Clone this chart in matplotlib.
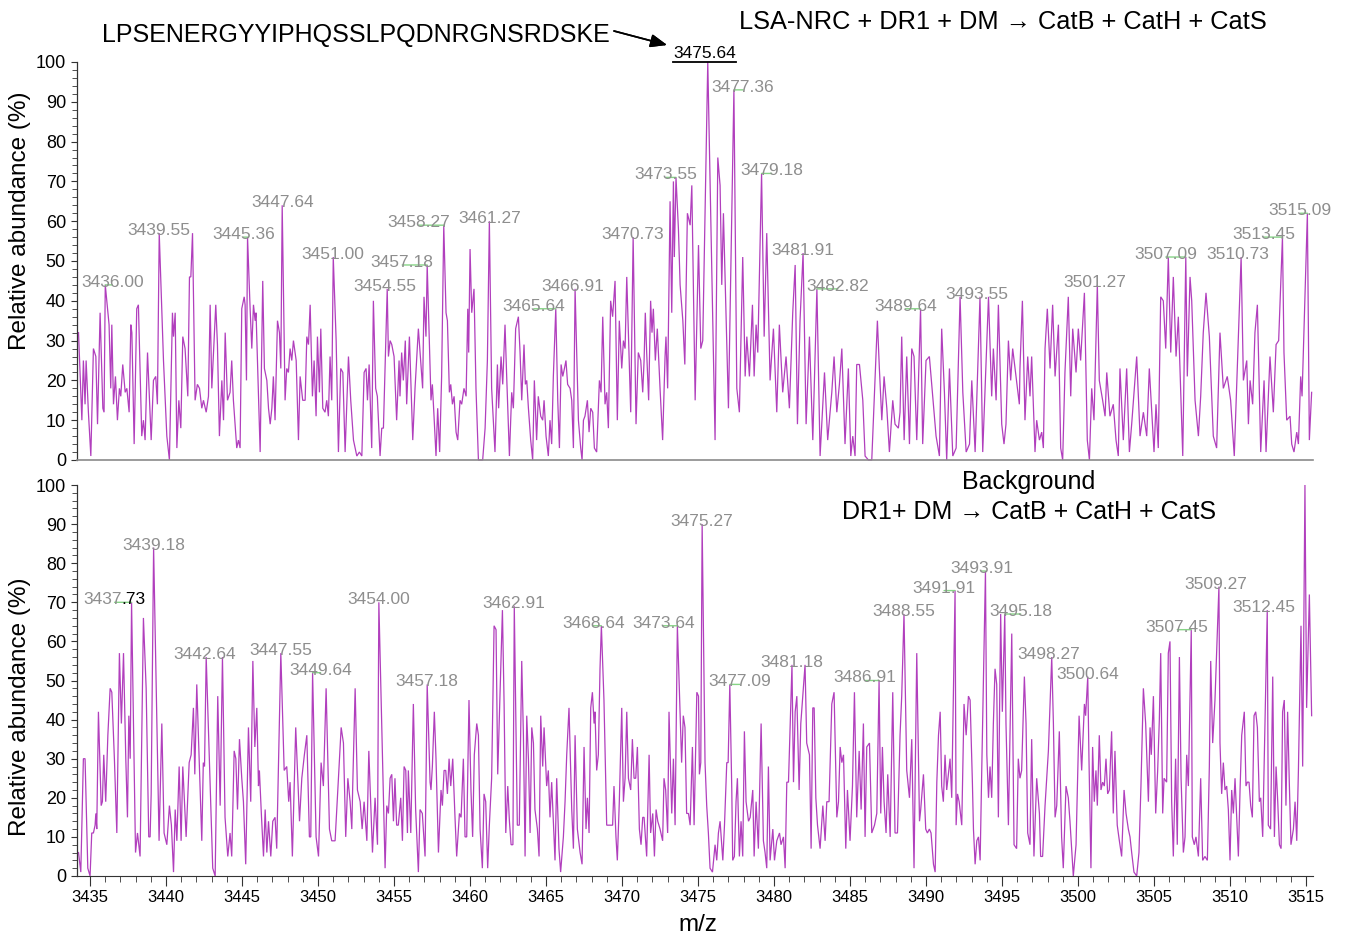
import matplotlib.pyplot as plt
from matplotlib.ticker import MultipleLocator
from matplotlib.lines import Line2D

plt.rcParams["font.family"] = ["Liberation Sans", "DejaVu Sans"]

# (m/z, relative abundance %) for the digest spectrum
top_trace = [
    (3434.24, 32), (3434.46, 10), (3434.56, 25), (3434.67, 14), (3434.74, 25), (3434.89, 12), (3435.05, 1), (3435.22, 28),
    (3435.38, 26), (3435.49, 9), (3435.66, 37), (3435.84, 13), (3435.92, 12), (3436.00, 44), (3436.25, 34), (3436.36, 18),
    (3436.43, 34), (3436.54, 14), (3436.67, 21), (3436.80, 10), (3436.93, 18), (3437.02, 16), (3437.15, 24), (3437.31, 17),
    (3437.42, 18), (3437.57, 12), (3437.68, 34), (3437.75, 32), (3437.90, 4), (3438.07, 38), (3438.18, 39), (3438.40, 6),
    (3438.51, 10), (3438.62, 5), (3438.78, 27), (3438.91, 15), (3439.02, 5), (3439.17, 20), (3439.32, 21), (3439.43, 14),
    (3439.55, 57), (3439.83, 25), (3440.05, 6), (3440.22, 0), (3440.42, 37), (3440.49, 31), (3440.60, 37), (3440.71, 3),
    (3440.84, 15), (3440.97, 8), (3441.10, 31), (3441.25, 28), (3441.43, 16), (3441.54, 46), (3441.63, 46), (3441.74, 57),
    (3441.91, 15), (3442.06, 19), (3442.20, 18), (3442.35, 13), (3442.46, 15), (3442.64, 12), (3442.79, 16), (3442.90, 39),
    (3443.01, 18), (3443.16, 30), (3443.27, 39), (3443.38, 29), (3443.51, 6), (3443.67, 20), (3443.78, 10), (3443.89, 32),
    (3444.04, 15), (3444.21, 17), (3444.32, 25), (3444.43, 15), (3444.65, 3), (3444.76, 5), (3444.87, 3), (3444.98, 38),
    (3445.14, 41), (3445.20, 39), (3445.29, 20), (3445.36, 56), (3445.53, 38), (3445.64, 28), (3445.75, 39), (3445.86, 35),
    (3445.92, 37), (3446.19, 2), (3446.36, 45), (3446.47, 23), (3446.63, 20), (3446.74, 13), (3446.85, 9), (3446.96, 13),
    (3447.06, 21), (3447.17, 10), (3447.33, 35), (3447.46, 32), (3447.55, 23), (3447.64, 64), (3447.83, 15), (3447.94, 23),
    (3448.05, 22), (3448.16, 28), (3448.27, 25), (3448.38, 30), (3448.56, 25), (3448.71, 5), (3448.82, 21), (3448.99, 15),
    (3449.15, 15), (3449.26, 31), (3449.37, 29), (3449.48, 39), (3449.63, 16), (3449.74, 25), (3449.87, 11), (3449.96, 31),
    (3450.09, 17), (3450.18, 33), (3450.31, 13), (3450.46, 12), (3450.57, 15), (3450.68, 11), (3450.79, 26), (3450.90, 15),
    (3451.00, 51), (3451.19, 30), (3451.34, 2), (3451.49, 23), (3451.63, 22), (3451.78, 2), (3452.00, 26), (3452.15, 15),
    (3452.33, 5), (3452.44, 3), (3452.55, 1), (3452.72, 2), (3452.88, 1), (3453.03, 22), (3453.16, 23), (3453.25, 15),
    (3453.36, 24), (3453.53, 3), (3453.64, 40), (3453.79, 18), (3453.90, 16), (3454.08, 1), (3454.19, 8), (3454.30, 8),
    (3454.55, 43), (3454.63, 26), (3454.74, 30), (3454.85, 29), (3455.00, 26), (3455.17, 10), (3455.33, 25), (3455.39, 16),
    (3455.50, 27), (3455.61, 20), (3455.74, 30), (3455.83, 14), (3456.01, 31), (3456.23, 5), (3456.38, 18), (3456.60, 33),
    (3456.75, 25), (3456.88, 18), (3456.97, 41), (3457.10, 31), (3457.18, 49), (3457.43, 15), (3457.52, 19), (3457.63, 11),
    (3457.76, 1), (3457.87, 13), (3458.00, 2), (3458.13, 21), (3458.27, 59), (3458.42, 37), (3458.51, 35), (3458.64, 17),
    (3458.73, 19), (3458.84, 14), (3458.95, 16), (3459.08, 7), (3459.19, 5), (3459.34, 15), (3459.45, 14), (3459.60, 18),
    (3459.74, 16), (3459.85, 38), (3459.91, 27), (3460.00, 53), (3460.11, 37), (3460.26, 43), (3460.39, 18), (3460.55, 0),
    (3460.83, 0), (3460.99, 8), (3461.14, 25), (3461.27, 60), (3461.42, 18), (3461.53, 10), (3461.64, 2), (3461.80, 24),
    (3461.88, 13), (3462.04, 26), (3462.15, 19), (3462.30, 34), (3462.41, 21), (3462.59, 1), (3462.74, 17), (3462.85, 13),
    (3463.00, 33), (3463.18, 36), (3463.29, 27), (3463.40, 15), (3463.55, 29), (3463.64, 19), (3463.73, 20), (3463.84, 13),
    (3463.99, 5), (3464.12, 0), (3464.23, 20), (3464.38, 5), (3464.49, 16), (3464.65, 11), (3464.78, 10), (3464.87, 15),
    (3465.00, 6), (3465.15, 1), (3465.26, 10), (3465.37, 4), (3465.48, 21), (3465.64, 38), (3465.77, 15), (3465.88, 3),
    (3465.99, 24), (3466.10, 21), (3466.21, 23), (3466.31, 25), (3466.42, 19), (3466.58, 18), (3466.69, 15), (3466.80, 3),
    (3466.91, 43), (3467.13, 10), (3467.28, 3), (3467.37, 0), (3467.46, 10), (3467.56, 11), (3467.72, 15), (3467.83, 7),
    (3467.94, 13), (3468.07, 12), (3468.18, 3), (3468.33, 2), (3468.51, 20), (3468.62, 17), (3468.73, 36), (3468.88, 14),
    (3468.99, 17), (3469.10, 8), (3469.25, 40), (3469.38, 36), (3469.54, 45), (3469.69, 10), (3469.82, 35), (3469.98, 23),
    (3470.09, 30), (3470.20, 28), (3470.31, 46), (3470.57, 12), (3470.73, 56), (3470.92, 9), (3471.07, 27), (3471.23, 25),
    (3471.36, 17), (3471.45, 25), (3471.53, 37), (3471.62, 27), (3471.75, 15), (3471.88, 40), (3471.97, 32), (3472.06, 38),
    (3472.19, 25), (3472.32, 33), (3472.50, 18), (3472.67, 5), (3472.83, 26), (3472.89, 31), (3473.00, 18), (3473.16, 65),
    (3473.27, 37), (3473.38, 70), (3473.44, 51), (3473.55, 71), (3473.71, 58), (3473.82, 44), (3474.00, 35), (3474.13, 24),
    (3474.30, 62), (3474.48, 59), (3474.59, 69), (3474.81, 15), (3475.03, 54), (3475.18, 28), (3475.31, 30), (3475.64, 100),
    (3476.12, 5), (3476.30, 76), (3476.45, 69), (3476.56, 44), (3476.67, 62), (3477.00, 13), (3477.36, 93), (3477.55, 18),
    (3477.72, 12), (3477.94, 51), (3478.10, 21), (3478.21, 31), (3478.38, 21), (3478.58, 39), (3478.69, 21), (3478.82, 34),
    (3478.93, 27), (3479.18, 72), (3479.35, 31), (3479.52, 57), (3479.74, 20), (3479.96, 33), (3480.18, 12), (3480.35, 34),
    (3480.57, 17), (3480.79, 26), (3481.01, 13), (3481.23, 37), (3481.39, 49), (3481.54, 9), (3481.71, 35), (3481.91, 52),
    (3482.11, 9), (3482.33, 31), (3482.55, 5), (3482.82, 43), (3483.03, 1), (3483.32, 22), (3483.53, 5), (3483.80, 17),
    (3483.95, 26), (3484.13, 12), (3484.30, 19), (3484.46, 28), (3484.67, 4), (3484.89, 23), (3485.05, 1), (3485.18, 6),
    (3485.33, 1), (3485.44, 24), (3485.62, 24), (3485.84, 15), (3485.99, 1), (3486.21, 0), (3486.43, 0), (3486.80, 35),
    (3486.93, 23), (3487.09, 10), (3487.24, 21), (3487.42, 13), (3487.59, 2), (3487.81, 15), (3487.96, 9), (3488.18, 8),
    (3488.29, 12), (3488.40, 31), (3488.56, 5), (3488.73, 26), (3488.91, 4), (3489.06, 28), (3489.21, 26), (3489.39, 5),
    (3489.64, 38), (3489.78, 4), (3490.00, 25), (3490.22, 26), (3490.44, 16), (3490.66, 6), (3490.88, 1), (3491.03, 33),
    (3491.21, 17), (3491.36, 0), (3491.54, 23), (3491.76, 1), (3491.98, 3), (3492.24, 41), (3492.42, 17), (3492.64, 2),
    (3492.86, 4), (3493.01, 20), (3493.23, 2), (3493.55, 41), (3493.73, 2), (3494.11, 41), (3494.32, 16), (3494.43, 28),
    (3494.61, 15), (3494.76, 39), (3494.98, 9), (3495.13, 4), (3495.26, 9), (3495.42, 30), (3495.57, 20), (3495.70, 28),
    (3495.92, 21), (3496.14, 14), (3496.18, 23), (3496.34, 40), (3496.51, 10), (3496.69, 26), (3496.84, 16), (3496.95, 26),
    (3497.17, 2), (3497.28, 10), (3497.46, 5), (3497.61, 7), (3497.72, 3), (3497.83, 28), (3497.98, 38), (3498.16, 23),
    (3498.33, 39), (3498.49, 21), (3498.71, 34), (3498.86, 3), (3498.99, 0), (3499.14, 22), (3499.36, 41), (3499.52, 16),
    (3499.65, 33), (3499.87, 22), (3500.02, 33), (3500.17, 25), (3500.42, 42), (3500.61, 5), (3500.75, 0), (3500.90, 18),
    (3501.05, 10), (3501.27, 44), (3501.40, 20), (3501.62, 15), (3501.78, 11), (3501.89, 22), (3502.10, 11), (3502.32, 14),
    (3502.50, 5), (3502.65, 1), (3502.76, 23), (3502.98, 5), (3503.20, 23), (3503.38, 2), (3503.53, 9), (3503.86, 26),
    (3504.08, 6), (3504.30, 12), (3504.52, 6), (3504.69, 23), (3505.00, 2), (3505.13, 14), (3505.28, 3), (3505.44, 41),
    (3505.61, 40), (3505.77, 28), (3505.94, 51), (3506.10, 27), (3506.27, 46), (3506.45, 26), (3506.60, 36), (3506.89, 1),
    (3507.09, 51), (3507.19, 21), (3507.37, 46), (3507.48, 40), (3507.70, 15), (3507.92, 6), (3508.07, 16), (3508.24, 32),
    (3508.42, 42), (3508.64, 31), (3508.90, 6), (3509.12, 3), (3509.34, 32), (3509.56, 18), (3509.82, 21), (3510.04, 15),
    (3510.28, 1), (3510.73, 51), (3510.88, 20), (3511.10, 25), (3511.21, 9), (3511.32, 20), (3511.49, 14), (3511.64, 32),
    (3511.80, 39), (3512.02, 2), (3512.24, 20), (3512.37, 2), (3512.63, 26), (3512.85, 12), (3513.03, 29), (3513.20, 30),
    (3513.45, 56), (3513.55, 27), (3513.73, 10), (3513.95, 11), (3514.06, 4), (3514.21, 2), (3514.39, 7), (3514.50, 4),
    (3514.65, 21), (3514.74, 16), (3515.09, 62), (3515.22, 5), (3515.37, 17),
]

# (m/z, relative abundance %) for the background digest
bottom_trace = [
    (3434.24, 6), (3434.39, 1), (3434.56, 30), (3434.67, 30), (3434.85, 2), (3435.00, 0), (3435.11, 11), (3435.22, 11),
    (3435.33, 13), (3435.38, 16), (3435.44, 12), (3435.55, 42), (3435.73, 18), (3435.81, 19), (3435.90, 31), (3436.03, 19),
    (3436.17, 36), (3436.32, 48), (3436.43, 47), (3436.54, 36), (3436.60, 30), (3436.76, 11), (3436.93, 57), (3437.06, 39),
    (3437.20, 57), (3437.35, 30), (3437.46, 15), (3437.55, 41), (3437.64, 30), (3437.73, 70), (3437.99, 6), (3438.12, 11),
    (3438.29, 5), (3438.51, 66), (3438.69, 48), (3438.86, 10), (3438.95, 10), (3439.02, 21), (3439.18, 84), (3439.54, 9),
    (3439.72, 39), (3439.87, 11), (3440.05, 8), (3440.22, 18), (3440.35, 13), (3440.49, 1), (3440.60, 17), (3440.71, 9),
    (3440.86, 28), (3440.99, 9), (3441.10, 28), (3441.21, 19), (3441.32, 10), (3441.52, 29), (3441.65, 31), (3441.80, 43),
    (3441.89, 26), (3442.02, 49), (3442.35, 9), (3442.45, 29), (3442.53, 28), (3442.64, 56), (3442.85, 30), (3443.07, 2),
    (3443.23, 0), (3443.40, 46), (3443.56, 18), (3443.71, 56), (3443.88, 15), (3444.06, 5), (3444.21, 11), (3444.32, 5),
    (3444.48, 32), (3444.59, 30), (3444.70, 17), (3444.83, 35), (3444.98, 25), (3445.09, 19), (3445.24, 3), (3445.42, 38),
    (3445.57, 19), (3445.71, 55), (3445.84, 33), (3445.97, 43), (3446.08, 23), (3446.14, 27), (3446.28, 15), (3446.41, 5),
    (3446.52, 17), (3446.63, 6), (3446.74, 14), (3446.89, 5), (3447.02, 14), (3447.17, 15), (3447.28, 7), (3447.55, 57),
    (3447.77, 27), (3447.94, 28), (3448.07, 19), (3448.16, 24), (3448.31, 5), (3448.53, 38), (3448.78, 14), (3448.93, 25),
    (3449.10, 31), (3449.26, 36), (3449.43, 10), (3449.52, 10), (3449.64, 52), (3449.87, 10), (3450.03, 5), (3450.20, 29),
    (3450.35, 23), (3450.53, 48), (3450.75, 12), (3450.90, 9), (3451.12, 9), (3451.52, 38), (3451.67, 34), (3451.82, 10),
    (3451.96, 25), (3452.11, 19), (3452.22, 12), (3452.28, 23), (3452.44, 48), (3452.59, 22), (3452.77, 19), (3452.90, 12),
    (3453.03, 19), (3453.21, 9), (3453.34, 32), (3453.58, 6), (3453.75, 20), (3453.91, 8), (3454.00, 70), (3454.41, 2),
    (3454.52, 18), (3454.63, 16), (3454.74, 25), (3454.85, 26), (3454.96, 14), (3455.06, 25), (3455.17, 13), (3455.28, 13),
    (3455.44, 20), (3455.55, 9), (3455.66, 28), (3455.77, 27), (3455.88, 11), (3455.94, 27), (3456.10, 11), (3456.27, 44),
    (3456.42, 17), (3456.60, 1), (3456.71, 17), (3456.86, 16), (3457.04, 5), (3457.18, 49), (3457.37, 24), (3457.43, 22),
    (3457.52, 28), (3457.65, 42), (3457.76, 30), (3457.92, 6), (3458.09, 22), (3458.18, 18), (3458.29, 27), (3458.40, 27),
    (3458.51, 21), (3458.62, 30), (3458.73, 23), (3458.86, 30), (3459.01, 15), (3459.12, 5), (3459.30, 16), (3459.41, 15),
    (3459.56, 30), (3459.67, 10), (3459.78, 10), (3459.93, 45), (3460.06, 22), (3460.17, 10), (3460.28, 31), (3460.44, 39),
    (3460.55, 36), (3460.66, 12), (3460.81, 2), (3460.92, 21), (3461.03, 19), (3461.16, 2), (3461.27, 13), (3461.42, 25),
    (3461.58, 64), (3461.71, 63), (3461.82, 26), (3461.97, 46), (3462.13, 68), (3462.24, 44), (3462.35, 11), (3462.48, 23),
    (3462.59, 14), (3462.70, 8), (3462.82, 8), (3462.91, 69), (3463.11, 13), (3463.24, 13), (3463.40, 55), (3463.51, 36),
    (3463.62, 5), (3463.73, 41), (3463.84, 30), (3463.95, 11), (3464.06, 38), (3464.17, 34), (3464.27, 17), (3464.43, 12),
    (3464.54, 5), (3464.65, 41), (3464.78, 28), (3464.87, 38), (3465.04, 23), (3465.15, 27), (3465.26, 15), (3465.37, 24),
    (3465.48, 14), (3465.59, 4), (3465.70, 25), (3465.85, 7), (3465.96, 1), (3466.14, 10), (3466.25, 19), (3466.36, 31),
    (3466.51, 43), (3466.69, 17), (3466.80, 7), (3466.91, 36), (3467.06, 12), (3467.24, 6), (3467.37, 3), (3467.50, 33),
    (3467.63, 12), (3467.72, 20), (3467.83, 11), (3467.94, 43), (3468.05, 47), (3468.16, 39), (3468.22, 42), (3468.33, 27),
    (3468.44, 31), (3468.55, 53), (3468.64, 64), (3468.81, 45), (3468.99, 13), (3469.14, 13), (3469.25, 13), (3469.38, 13),
    (3469.47, 23), (3469.60, 10), (3469.69, 4), (3469.82, 19), (3469.98, 43), (3470.09, 19), (3470.20, 25), (3470.31, 42),
    (3470.42, 25), (3470.57, 22), (3470.68, 35), (3470.79, 25), (3470.90, 25), (3471.01, 33), (3471.14, 12), (3471.25, 8),
    (3471.36, 15), (3471.45, 15), (3471.62, 5), (3471.78, 31), (3471.88, 11), (3472.02, 16), (3472.13, 5), (3472.24, 17),
    (3472.35, 14), (3472.50, 12), (3472.67, 9), (3472.76, 25), (3472.87, 22), (3473.00, 11), (3473.09, 42), (3473.27, 16),
    (3473.38, 30), (3473.49, 13), (3473.64, 64), (3473.77, 48), (3473.92, 29), (3474.03, 41), (3474.14, 38), (3474.25, 16),
    (3474.37, 16), (3474.48, 13), (3474.63, 33), (3474.74, 13), (3474.92, 47), (3475.03, 46), (3475.09, 26), (3475.18, 29),
    (3475.27, 90), (3475.46, 29), (3475.57, 18), (3475.68, 11), (3475.79, 2), (3475.95, 1), (3476.12, 8), (3476.23, 4),
    (3476.34, 11), (3476.45, 14), (3476.63, 4), (3476.74, 13), (3476.89, 29), (3476.98, 29), (3477.09, 49), (3477.22, 22),
    (3477.28, 4), (3477.39, 5), (3477.50, 19), (3477.59, 25), (3477.72, 5), (3477.83, 14), (3477.94, 5), (3478.05, 37),
    (3478.16, 19), (3478.32, 14), (3478.43, 15), (3478.60, 22), (3478.69, 5), (3478.82, 19), (3478.97, 7), (3479.15, 39),
    (3479.30, 9), (3479.41, 6), (3479.52, 2), (3479.63, 28), (3479.74, 4), (3479.92, 12), (3480.03, 4), (3480.18, 9),
    (3480.36, 11), (3480.46, 8), (3480.62, 10), (3480.73, 2), (3480.84, 24), (3480.95, 24), (3481.18, 54), (3481.28, 24),
    (3481.39, 42), (3481.50, 46), (3481.65, 22), (3481.76, 39), (3481.89, 46), (3482.04, 54), (3482.15, 34), (3482.33, 31),
    (3482.44, 7), (3482.55, 43), (3482.64, 43), (3482.75, 20), (3482.86, 13), (3483.03, 7), (3483.21, 18), (3483.36, 9),
    (3483.47, 19), (3483.62, 19), (3483.80, 44), (3483.95, 47), (3484.13, 15), (3484.24, 19), (3484.35, 33), (3484.46, 29),
    (3484.57, 31), (3484.72, 7), (3484.83, 22), (3485.00, 9), (3485.16, 23), (3485.29, 47), (3485.44, 15), (3485.60, 32),
    (3485.73, 17), (3485.88, 39), (3485.99, 10), (3486.10, 33), (3486.28, 34), (3486.43, 11), (3486.61, 13), (3486.76, 16),
    (3486.91, 50), (3487.02, 16), (3487.13, 33), (3487.24, 19), (3487.37, 11), (3487.48, 26), (3487.64, 10), (3487.81, 47),
    (3487.96, 11), (3488.12, 11), (3488.29, 36), (3488.40, 46), (3488.55, 67), (3488.73, 27), (3488.91, 20), (3489.06, 35),
    (3489.21, 2), (3489.39, 57), (3489.57, 14), (3489.65, 17), (3489.83, 26), (3489.98, 12), (3490.09, 11), (3490.22, 12),
    (3490.33, 11), (3490.49, 3), (3490.60, 1), (3490.71, 24), (3490.82, 36), (3490.93, 42), (3491.03, 23), (3491.14, 19),
    (3491.25, 31), (3491.36, 22), (3491.47, 26), (3491.58, 30), (3491.69, 20), (3491.91, 73), (3491.98, 13), (3492.07, 21),
    (3492.18, 19), (3492.35, 13), (3492.50, 44), (3492.64, 36), (3492.79, 46), (3492.90, 45), (3493.05, 24), (3493.12, 12),
    (3493.23, 3), (3493.34, 9), (3493.45, 10), (3493.56, 4), (3493.67, 28), (3493.91, 78), (3494.00, 31), (3494.11, 20),
    (3494.21, 28), (3494.32, 20), (3494.43, 39), (3494.54, 53), (3494.65, 49), (3494.76, 15), (3494.91, 67), (3495.02, 42),
    (3495.18, 67), (3495.26, 39), (3495.42, 13), (3495.64, 62), (3495.79, 8), (3495.96, 7), (3496.07, 30), (3496.18, 25),
    (3496.29, 27), (3496.47, 51), (3496.58, 39), (3496.69, 11), (3496.84, 8), (3496.95, 35), (3497.10, 5), (3497.28, 25),
    (3497.46, 16), (3497.54, 5), (3497.67, 5), (3497.83, 18), (3498.05, 32), (3498.27, 56), (3498.38, 39), (3498.49, 15),
    (3498.60, 18), (3498.77, 37), (3498.92, 10), (3499.03, 2), (3499.21, 23), (3499.36, 20), (3499.47, 14), (3499.69, 0),
    (3499.87, 8), (3500.07, 41), (3500.24, 27), (3500.42, 44), (3500.50, 41), (3500.64, 51), (3500.72, 30), (3500.85, 2),
    (3500.96, 33), (3501.07, 19), (3501.18, 27), (3501.27, 18), (3501.40, 36), (3501.51, 22), (3501.62, 24), (3501.73, 23),
    (3501.84, 30), (3501.95, 21), (3502.06, 22), (3502.21, 37), (3502.32, 16), (3502.43, 32), (3502.58, 13), (3502.72, 9),
    (3502.87, 5), (3503.03, 22), (3503.16, 16), (3503.31, 12), (3503.42, 10), (3503.53, 6), (3503.68, 1), (3503.86, 0),
    (3504.01, 6), (3504.14, 23), (3504.30, 48), (3504.45, 39), (3504.63, 19), (3504.74, 38), (3504.82, 31), (3504.96, 46),
    (3505.11, 16), (3505.24, 27), (3505.35, 40), (3505.44, 57), (3505.57, 16), (3505.66, 25), (3505.83, 24), (3505.94, 57),
    (3506.05, 60), (3506.16, 19), (3506.27, 5), (3506.42, 30), (3506.53, 8), (3506.67, 56), (3506.78, 25), (3506.93, 6),
    (3507.04, 10), (3507.15, 31), (3507.26, 23), (3507.45, 63), (3507.52, 10), (3507.65, 8), (3507.76, 10), (3507.92, 5),
    (3508.07, 25), (3508.20, 4), (3508.35, 5), (3508.51, 4), (3508.64, 28), (3508.73, 55), (3508.86, 34), (3509.01, 45),
    (3509.27, 74), (3509.34, 34), (3509.45, 21), (3509.56, 29), (3509.67, 22), (3509.78, 23), (3509.89, 17), (3510.00, 4),
    (3510.11, 22), (3510.22, 16), (3510.33, 25), (3510.44, 15), (3510.55, 5), (3510.66, 22), (3510.77, 36), (3510.94, 42),
    (3511.05, 23), (3511.14, 24), (3511.25, 24), (3511.36, 18), (3511.47, 15), (3511.58, 41), (3511.69, 42), (3511.80, 38),
    (3511.93, 19), (3512.02, 20), (3512.15, 10), (3512.45, 68), (3512.52, 13), (3512.67, 12), (3512.81, 51), (3512.92, 10),
    (3513.03, 28), (3513.14, 19), (3513.25, 8), (3513.36, 7), (3513.46, 42), (3513.57, 45), (3513.68, 18), (3513.79, 42),
    (3513.90, 24), (3514.01, 8), (3514.17, 12), (3514.28, 19), (3514.39, 9), (3514.50, 27), (3514.67, 64), (3514.78, 28),
    (3514.93, 100), (3515.04, 43), (3515.22, 72), (3515.37, 41),
]

top_peaks = [3436.00, 3439.55, 3445.36, 3447.64, 3451.00, 3454.55, 3457.18, 3458.27, 3461.27, 3465.64,
             3466.91, 3470.73, 3473.55, 3477.36, 3479.18, 3481.91, 3482.82, 3489.64, 3493.55, 3501.27,
             3507.09, 3510.73, 3513.45, 3515.09]
base_peak = 3475.64
bottom_peaks = [3437.73, 3439.18, 3442.64, 3447.55, 3449.64, 3454.00, 3457.18, 3462.91, 3468.64, 3473.64,
                3475.27, 3477.09, 3481.18, 3486.91, 3488.55, 3491.91, 3493.91, 3495.18, 3498.27, 3500.64,
                3507.45, 3509.27, 3512.45]
# this one prints with its decimals in black
split_peak = 3437.73

sequence = "LPSENERGYYIPHQSSLPQDNRGNSRDSKE"
top_title = "LSA-NRC + DR1 + DM \u2192 CatB + CatH + CatS"
bottom_title = ["Background", "DR1+ DM \u2192 CatB + CatH + CatS"]

# sideways nudges (pixels) for labels that had to move off their peak
top_shift = {3436.00: 7, 3445.36: -4, 3454.55: -2, 3457.18: -25, 3458.27: -25, 3465.64: -22,
             3466.91: -2, 3473.55: -10, 3477.36: 9, 3479.18: 10, 3482.82: 21, 3489.64: -15,
             3493.55: -3, 3501.27: -3, 3507.09: -20, 3510.73: -3, 3513.45: -19, 3515.09: -7}
bottom_shift = {3437.73: -17, 3442.64: -2, 3449.64: 8, 3468.64: -8, 3473.64: -14, 3477.09: 10,
                3486.91: -14, 3491.91: -11, 3493.91: -4, 3495.18: 16, 3498.27: -3, 3507.45: -14,
                3509.27: -3, 3512.45: -3}

trace_color = "#b13fbd"
label_color = "#8e8e8e"
leader_color = "#86d486"
label_size = 12.5

W, H = 1350, 940
fig = plt.figure(figsize=(W / 100, H / 100), dpi=100)


def box(x0, y0, x1, y1):
    return [x0 / W, 1 - y1 / H, (x1 - x0) / W, (y1 - y0) / H]


ax1 = fig.add_axes(box(77, 62, 1312.7, 460))
ax2 = fig.add_axes(box(77, 485, 1312.7, 876))


def style(ax, bottom_ticks):
    ax.set_xlim(3434.14, 3515.44)
    ax.set_ylim(0, 100)
    ax.spines["top"].set_visible(False)
    ax.spines["right"].set_visible(False)
    ax.spines["left"].set_color("#333333")
    ax.spines["left"].set_linewidth(0.9)
    ax.yaxis.set_major_locator(MultipleLocator(10))
    ax.yaxis.set_minor_locator(MultipleLocator(2))
    ax.tick_params(axis="y", which="major", direction="out", length=4, width=0.8,
                   labelsize=13, pad=4, color="#333333")
    ax.tick_params(axis="y", which="minor", direction="out", length=3.5, width=0.6, color="#333333")
    if bottom_ticks:
        ax.spines["bottom"].set_color("#333333")
        ax.xaxis.set_major_locator(MultipleLocator(5))
        ax.xaxis.set_minor_locator(MultipleLocator(1))
        ax.tick_params(axis="x", which="major", direction="out", length=7, width=0.8,
                       labelsize=12, pad=3, color="#333333")
        ax.tick_params(axis="x", which="minor", direction="out", length=4, width=0.6, color="#333333")
    else:
        ax.spines["bottom"].set_color("#8a8a8a")
        ax.spines["bottom"].set_linewidth(1.2)
        ax.tick_params(axis="x", which="both", bottom=False, labelbottom=False)


def label_peaks(ax, trace, peaks, shift):
    lookup = dict(trace)
    for p in peaks:
        h = lookup[p]
        dx = shift.get(p, 0)
        if abs(dx) >= 4:
            ax.annotate("", xy=(p, h), xytext=(dx, 0), textcoords="offset pixels",
                        arrowprops=dict(arrowstyle="-", color=leader_color, lw=1,
                                        shrinkA=0, shrinkB=0), annotation_clip=False)
        text = f"{p:.2f}"
        if p == split_peak:
            # integer part grey, decimals black, joined at the decimal point
            head, tail = text.split(".")
            mid = dx + 7
            ax.annotate(head, xy=(p, h), xytext=(mid, -2), textcoords="offset pixels",
                        ha="right", va="baseline", color=label_color, fontsize=label_size,
                        annotation_clip=False)
            ax.annotate("." + tail, xy=(p, h), xytext=(mid, -2), textcoords="offset pixels",
                        ha="left", va="baseline", color="black", fontsize=label_size,
                        annotation_clip=False)
            continue
        ax.annotate(text, xy=(p, h), xytext=(dx, -2), textcoords="offset pixels",
                    ha="center", va="baseline", color=label_color, fontsize=label_size,
                    annotation_clip=False)


for ax, trace, bottom_ticks in [(ax1, top_trace, False), (ax2, bottom_trace, True)]:
    mz, inten = zip(*trace)
    ax.plot(mz, inten, color=trace_color, lw=0.9, solid_joinstyle="miter", clip_on=False)
    style(ax, bottom_ticks)

label_peaks(ax1, top_trace, top_peaks, top_shift)
label_peaks(ax2, bottom_trace, bottom_peaks, bottom_shift)

# base peak of the digest, black and underlined
base_h = dict(top_trace)[base_peak]
base_txt = ax1.annotate(f"{base_peak:.2f}", xy=(base_peak, base_h), xytext=(-3, 4),
                        textcoords="offset pixels", ha="center", va="baseline",
                        color="black", fontsize=label_size, annotation_clip=False)

fig.text(102 / W, 1 - 35 / H, sequence, fontsize=18, ha="left", va="center")
fig.text(1003 / W, 1 - 22 / H, top_title, fontsize=18.3, ha="center", va="center")
fig.text(1029 / W, 1 - 482 / H, bottom_title[0], fontsize=18, ha="center", va="center")
fig.text(1029 / W, 1 - 512 / H, bottom_title[1], fontsize=18, ha="center", va="center")
fig.text(20 / W, 1 - 221 / H, "Relative abundance (%)", fontsize=17.5, rotation=90,
         ha="center", va="center")
fig.text(20 / W, 1 - 707 / H, "Relative abundance (%)", fontsize=17.5, rotation=90,
         ha="center", va="center")
fig.text(698 / W, 1 - 925 / H, "m/z", fontsize=17.5, ha="center", va="center")

# arrow from the sequence to the base peak label
fig.add_artist(plt.annotate("", xy=(667, H - 45), xytext=(614, H - 31),
                            xycoords="figure pixels", textcoords="figure pixels",
                            arrowprops=dict(arrowstyle="-|>,head_length=1.0,head_width=0.4",
                                            color="black", lw=1.2, shrinkA=0, shrinkB=0)))

fig.canvas.draw()
renderer = fig.canvas.get_renderer()

# underline under the base peak label
bb = base_txt.get_window_extent(renderer)
fig.add_artist(Line2D([bb.x0 / W, bb.x1 / W], [(bb.y0 - 1) / H, (bb.y0 - 1) / H],
                      transform=fig.transFigure, color="black", lw=1.3))

fig.savefig("out.png", dpi=100)
